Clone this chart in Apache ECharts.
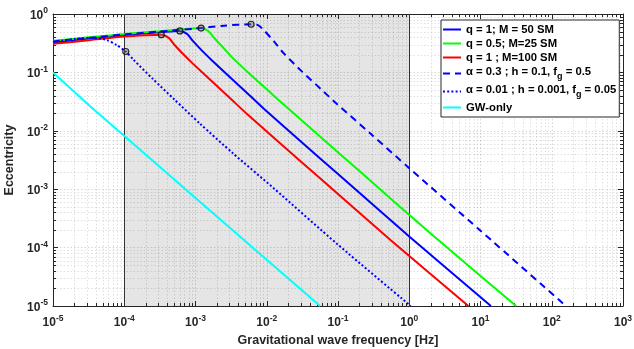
<!DOCTYPE html>
<html><head><meta charset="utf-8">
<script src="https://cdn.jsdelivr.net/npm/echarts@6/dist/echarts.min.js"></script>
<style>html,body{margin:0;padding:0;background:#fff}#c{width:634px;height:349px}</style>
</head><body><div id="c"></div>
<script>
// ---- data: [gravitational wave frequency (Hz), eccentricity] ----
const seriesNames = ['q = 1; M = 50 SM', 'q = 0.5; M=25 SM', 'q = 1 ; M=100 SM',
  'α = 0.3 ; h = 0.1, f_g = 0.5', 'α = 0.01 ; h = 0.001, f_g = 0.05', 'GW-only'];
const q1M50 = [[1e-5,0.324],[3.16e-5,0.380],[1e-4,0.437],[2.51e-4,0.479],[4.47e-4,0.501],[6.03e-4,0.513],[7.59e-4,0.457],[9.33e-4,0.339],[1.26e-3,0.229],[1.69e-3,0.162],[3.16e-3,0.0794],[5.82e-3,0.0398],[9.44e-3,0.0229],[2.93e-2,6.76e-3],[0.1,1.82e-3],[1,1.55e-4],[14,1e-5]];
const q05M25 = [[1e-5,0.347],[3.16e-5,0.398],[1e-4,0.455],[3.16e-4,0.507],[6.31e-4,0.543],[1.2e-3,0.575],[1.51e-3,0.513],[1.86e-3,0.380],[2.51e-3,0.257],[3.37e-3,0.174],[6.31e-3,0.0851],[1.16e-2,0.0437],[1.88e-2,0.0257],[5.85e-2,7.59e-3],[0.2,2.04e-3],[2.0,1.74e-4],[31.6,1e-5]];
const q1M100 = [[1e-5,0.309],[3.16e-5,0.355],[1e-4,0.412],[2e-4,0.434],[3.31e-4,0.443],[4.17e-4,0.394],[5.13e-4,0.292],[6.92e-4,0.198],[9.27e-4,0.140],[1.74e-3,0.0686],[3.2e-3,0.0344],[5.19e-3,0.0198],[1.61e-2,5.83e-3],[5.5e-2,1.57e-3],[0.55,1.34e-4],[6.76,1e-5]];
const alpha03 = [[1e-5,0.339],[3.16e-5,0.389],[1e-4,0.447],[3.16e-4,0.501],[1e-3,0.562],[2.51e-3,0.631],[6.03e-3,0.667],[7.53e-3,0.646],[9.33e-3,0.513],[1.26e-2,0.339],[1.69e-2,0.219],[3.16e-2,0.102],[5.82e-2,0.0513],[9.44e-2,0.0295],[0.293,8.71e-3],[1,2.29e-3],[10,1.95e-4],[158,1e-5]];
const alpha001 = [[1e-5,0.331],[2e-5,0.372],[3.31e-5,0.389],[4.47e-5,0.380],[5.68e-5,0.359],[7.83e-5,0.294],[1.05e-4,0.228],[1.34e-4,0.166],[2.51e-4,0.0776],[5.01e-4,0.0347],[1.16e-3,0.0132],[3.39e-3,4.07e-3],[1.24e-2,1.05e-3],[0.1,1.12e-4],[1.05,1e-5]];
const gwOnly = [[1e-5,0.1],[4.6e-5,0.0186],[0.056,1e-5]];
const peakMarkers = [[6.03e-4,0.513],[1.2e-3,0.575],[3.31e-4,0.443],[6.03e-3,0.667],[1.05e-4,0.228]];
const shadedBand = [[1e-4, 1]];
const xTickExponents = [-5,-4,-3,-2,-1,0,1,2,3];
const yTickExponents = [-5,-4,-3,-2,-1,0];

const colors = ['#0000ff','#00ff00','#ff0000','#0000ff','#0000ff','#00ffff'];
const lineTypes = ['solid','solid','solid',[7,5],[2,2.2],'solid'];
const curves = [q1M50, q05M25, q1M100, alpha03, alpha001, gwOnly];

const xMin = Math.pow(10, xTickExponents[0]), xMax = Math.pow(10, xTickExponents[xTickExponents.length-1]);
const yMin = Math.pow(10, yTickExponents[0]), yMax = Math.pow(10, yTickExponents[yTickExponents.length-1]);

const minorTicks = [];
for (let i = 0; i < xTickExponents.length - 1; i++)
  for (let k = 2; k <= 9; k++) minorTicks.push([k*Math.pow(10,xTickExponents[i]), 1e-2, 0]);
for (let i = 0; i < yTickExponents.length - 1; i++)
  for (let k = 2; k <= 9; k++) minorTicks.push([1e-2, k*Math.pow(10,yTickExponents[i]), 1]);

const AX = '#262626';
const FONT = '"Liberation Sans", Arial, sans-serif';
function powLabel(v){
  const e = Math.round(Math.log10(v));
  return '{b|10}{s|' + e + '}';
}
const labelRich = {
  b:{fontSize:12,fontWeight:'bold',color:AX,fontFamily:FONT,verticalAlign:'bottom'},
  s:{fontSize:8.5,fontWeight:'bold',color:AX,fontFamily:FONT,verticalAlign:'bottom',padding:[0,0,6,0]}
};
function baseAxis(extra){
  return Object.assign({
    type:'log', logBase:10,
    axisLine:{show:true,onZero:false,lineStyle:{color:AX,width:1}},
    axisTick:{show:true,inside:true,length:5,lineStyle:{color:AX,width:1}},
    splitLine:{show:false},
    axisLabel:{show:false}
  }, extra);
}
const chart = echarts.init(document.getElementById('c'), null, {renderer:'canvas'});
const series = [];
series.push({
  type:'custom', z:1, silent:true, xAxisIndex:0, yAxisIndex:0, data:shadedBand,
  renderItem:function(params, api){
    const cs = params.coordSys;
    const x1 = Math.round(api.coord([api.value(0),1e-2])[0]) + 0.5;
    const x2 = Math.round(api.coord([api.value(1),1e-2])[0]) + 0.5;
    return {type:'group', children:[
      {type:'rect', shape:{x:x1,y:cs.y,width:x2-x1,height:cs.height}, style:{fill:'rgba(0,0,0,0.1)'}},
      {type:'line', shape:{x1:x1,y1:cs.y,x2:x1,y2:cs.y+cs.height}, style:{stroke:'#333',lineWidth:1}},
      {type:'line', shape:{x1:x2,y1:cs.y,x2:x2,y2:cs.y+cs.height}, style:{stroke:'#333',lineWidth:1}}
    ]};
  }
});
series.push({
  type:'custom', z:1, silent:true, xAxisIndex:0, yAxisIndex:0, data:minorTicks, clip:false,
  renderItem:function(params, api){
    const cs = params.coordSys;
    const kind = api.value(2);
    const g = {stroke:'rgba(0,0,0,0.12)', lineWidth:1, lineDash:[1.5,2]};
    const t = {stroke:AX, lineWidth:1};
    if (kind === 0) {
      const px = Math.round(api.coord([api.value(0),1e-2])[0]) + 0.5;
      return {type:'group', children:[
        {type:'line', shape:{x1:px,y1:cs.y,x2:px,y2:cs.y+cs.height}, style:g},
        {type:'line', shape:{x1:px,y1:cs.y+cs.height,x2:px,y2:cs.y+cs.height-3}, style:t},
        {type:'line', shape:{x1:px,y1:cs.y,x2:px,y2:cs.y+3}, style:t}
      ]};
    } else {
      const py = Math.round(api.coord([1e-2, api.value(1)])[1]) + 0.5;
      return {type:'group', children:[
        {type:'line', shape:{x1:cs.x,y1:py,x2:cs.x+cs.width,y2:py}, style:g},
        {type:'line', shape:{x1:cs.x,y1:py,x2:cs.x+3,y2:py}, style:t},
        {type:'line', shape:{x1:cs.x+cs.width,y1:py,x2:cs.x+cs.width-3,y2:py}, style:t}
      ]};
    }
  }
});
curves.forEach(function(d, i){
  series.push({
    name:seriesNames[i], type:'line', data:d, xAxisIndex:0, yAxisIndex:0,
    symbol:'none', smooth:0.25, z:3, silent:true,
    lineStyle:{color:colors[i], width:2, type:lineTypes[i]},
    itemStyle:{color:colors[i]}
  });
});
series.push({
  type:'scatter', data:peakMarkers, xAxisIndex:0, yAxisIndex:0, z:4, silent:true,
  symbol:'circle', symbolSize:6,
  itemStyle:{color:'rgba(120,120,120,0.5)', borderColor:'#000', borderWidth:1.2}
});

function legendFmt(name){
  if (name.indexOf('f_g') >= 0) {
    const parts = name.split('f_g');
    return '{t|' + parts[0] + 'f}{sub|g}{t|' + parts[1] + '}';
  }
  return '{t|' + name + '}';
}
chart.setOption({
  animation:false,
  backgroundColor:'#fff',
  grid:{left:53, right:11, top:14, bottom:43, containLabel:false, outerBoundsMode:'none'},
  legend:{
    data:seriesNames, orient:'vertical', left:441, top:20,
    itemWidth:18, itemHeight:12, itemGap:3, padding:[4,3,4,1],
    backgroundColor:'#fff', borderColor:AX, borderWidth:1,
    itemStyle:{opacity:0},
    formatter:legendFmt,
    textStyle:{fontSize:11.3, fontWeight:'bold', color:'#000', fontFamily:FONT,
      rich:{
        t:{fontSize:11.3,fontWeight:'bold',color:'#000',fontFamily:FONT,verticalAlign:'top'},
        sub:{fontSize:9,fontWeight:'bold',color:'#000',fontFamily:FONT,verticalAlign:'top',padding:[6,0,0,0]}
      }},
    selectedMode:false
  },
  xAxis:[
    baseAxis({position:'bottom', min:xMin, max:xMax,
      name:'Gravitational wave frequency [Hz]', nameLocation:'middle', nameGap:21,
      nameTextStyle:{fontSize:12.5,fontWeight:'bold',color:AX,fontFamily:FONT},
      axisLabel:{show:true, margin:8, formatter:powLabel, rich:labelRich},
      splitLine:{show:true, lineStyle:{color:'rgba(0,0,0,0.16)', width:1, type:[1.5,2]}}
    }),
    baseAxis({position:'top', min:xMin, max:xMax})
  ],
  yAxis:[
    baseAxis({position:'left', min:yMin, max:yMax,
      name:'Eccentricity', nameLocation:'middle', nameGap:31, nameRotate:90,
      nameTextStyle:{fontSize:12.5,fontWeight:'bold',color:AX,fontFamily:FONT},
      axisLabel:{show:true, margin:5, formatter:powLabel, rich:labelRich},
      splitLine:{show:true, lineStyle:{color:'rgba(0,0,0,0.16)', width:1, type:[1.5,2]}}
    }),
    baseAxis({position:'right', min:yMin, max:yMax})
  ],
  series:series
});
</script>
</body></html>
